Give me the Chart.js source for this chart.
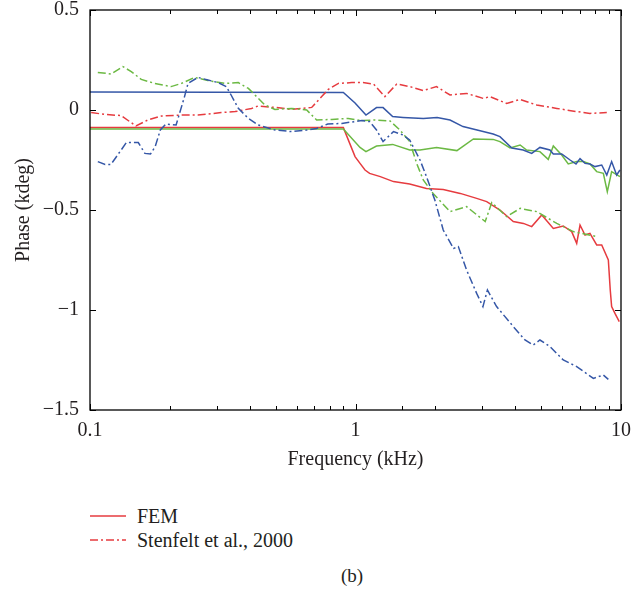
<!DOCTYPE html>
<html>
<head>
<meta charset="utf-8">
<script src="https://cdn.jsdelivr.net/npm/chart.js@4.4.1/dist/chart.umd.min.js"></script>
<style>
  html, body { margin: 0; padding: 0; background: #fff; }
  #wrap { position: relative; width: 641px; height: 594px; font-family: 'Liberation Serif', 'Times New Roman', serif; color: #231f20; overflow: hidden; }
  #chartBox { position: absolute; left: 0; top: -5px; width: 641px; height: 485px; }
  .leg { position: absolute; left: 90px; font-size: 20px; line-height: 22px; display: flex; align-items: center; }
  .leg svg { margin-right: 11px; }
  #cap { position: absolute; top: 565px; left: 0; width: 704px; text-align: center; font-size: 19px; }
</style>
</head>
<body>
<div id="wrap">
  <div id="chartBox"><canvas id="phase"></canvas></div>
  <div class="leg" style="top:505px">
    <svg width="36" height="4"><line x1="0" y1="2" x2="36" y2="2" stroke="#e63b3f" stroke-width="1.6"/></svg>FEM
  </div>
  <div class="leg" style="top:529px">
    <svg width="36" height="4"><line x1="0" y1="2" x2="36" y2="2" stroke="#e63b3f" stroke-width="1.6" stroke-dasharray="8 3 2 3"/></svg>Stenfelt et al., 2000
  </div>
  <div id="cap">(b)</div>
</div>
<script>
// --- DATOS (frecuencia en kHz, fase en kdeg) ---
const RED = '#e63b3f';
const BLUE = '#3557a7';
const GREEN = '#6cb944';

// FEM
const femBlueF = [0.1, 0.9, 0.996, 1.095, 1.20, 1.27, 1.38, 1.51, 1.80, 2.03, 2.27, 2.54, 2.87, 3.30, 3.50, 3.88, 4.28, 4.61, 4.95, 5.40, 5.56, 5.98, 6.43, 6.77, 7.01, 7.32, 7.64, 7.98, 8.46, 8.84, 9.22, 9.63, 9.91];
const femBlueP = [0.09, 0.088, 0.035, -0.025, 0.012, 0.012, -0.033, -0.037, -0.043, -0.038, -0.05, -0.083, -0.10, -0.12, -0.133, -0.19, -0.20, -0.217, -0.187, -0.20, -0.22, -0.22, -0.25, -0.27, -0.243, -0.267, -0.27, -0.283, -0.275, -0.325, -0.258, -0.325, -0.30];

const femGreenF = [0.1, 0.9, 1.04, 1.095, 1.20, 1.38, 1.60, 1.75, 2.02, 2.41, 2.78, 3.30, 3.50, 3.82, 4.17, 4.41, 4.95, 5.32, 5.56, 5.98, 6.33, 6.81, 7.21, 7.64, 8.10, 8.58, 8.88, 9.22, 9.91];
const femGreenP = [-0.095, -0.095, -0.187, -0.208, -0.18, -0.172, -0.20, -0.20, -0.187, -0.203, -0.145, -0.147, -0.158, -0.19, -0.175, -0.20, -0.208, -0.247, -0.18, -0.225, -0.27, -0.258, -0.258, -0.27, -0.308, -0.317, -0.408, -0.308, -0.333];

const femRedF = [0.1, 0.9, 0.996, 1.04, 1.086, 1.13, 1.24, 1.39, 1.60, 1.85, 2.14, 2.48, 2.86, 3.12, 3.50, 3.93, 4.29, 4.61, 5.03, 5.56, 6.06, 6.52, 6.81, 7.01, 7.32, 7.64, 8.10, 8.46, 8.96, 9.11, 9.22, 9.49, 9.85];
const femRedP = [-0.088, -0.088, -0.233, -0.267, -0.30, -0.317, -0.333, -0.358, -0.37, -0.392, -0.397, -0.417, -0.442, -0.458, -0.50, -0.558, -0.567, -0.583, -0.525, -0.592, -0.58, -0.608, -0.667, -0.575, -0.625, -0.617, -0.675, -0.675, -0.75, -0.90, -0.983, -1.017, -1.058];

// Stenfelt et al., 2000
const stRedF = [0.101, 0.114, 0.131, 0.149, 0.165, 0.186, 0.221, 0.255, 0.312, 0.352, 0.406, 0.430, 0.497, 0.575, 0.684, 0.746, 0.790, 0.862, 0.968, 1.067, 1.17, 1.29, 1.43, 1.60, 1.80, 2.02, 2.27, 2.62, 3.03, 3.21, 3.71, 4.17, 4.81, 5.73, 6.81, 7.64, 8.84];
const stRedP = [-0.013, -0.022, -0.028, -0.08, -0.05, -0.03, -0.025, -0.025, -0.013, -0.008, 0.008, 0.02, 0.013, 0.003, 0.013, 0.067, 0.103, 0.133, 0.137, 0.137, 0.13, 0.067, 0.13, 0.117, 0.097, 0.117, 0.075, 0.083, 0.058, 0.067, 0.033, 0.053, 0.025, 0.008, -0.008, -0.017, -0.013];

const stGreenF = [0.107, 0.120, 0.133, 0.143, 0.156, 0.175, 0.202, 0.221, 0.248, 0.278, 0.322, 0.362, 0.395, 0.456, 0.497, 0.575, 0.655, 0.714, 0.814, 0.939, 1.055, 1.17, 1.35, 1.47, 1.60, 1.70, 1.80, 1.96, 2.27, 2.62, 3.08, 3.26, 3.71, 4.17, 4.81, 5.73, 6.61, 8.10];
const stGreenP = [0.188, 0.18, 0.217, 0.192, 0.153, 0.133, 0.117, 0.133, 0.163, 0.147, 0.133, 0.137, 0.108, 0.025, 0.003, 0.008, 0.0, -0.05, -0.047, -0.042, -0.053, -0.05, -0.055, -0.10, -0.158, -0.267, -0.35, -0.417, -0.508, -0.483, -0.558, -0.463, -0.533, -0.492, -0.508, -0.567, -0.608, -0.633];

const stBlueF = [0.107, 0.114, 0.120, 0.131, 0.137, 0.152, 0.161, 0.169, 0.176, 0.184, 0.193, 0.211, 0.227, 0.234, 0.255, 0.278, 0.304, 0.326, 0.340, 0.362, 0.395, 0.430, 0.497, 0.575, 0.655, 0.714, 0.786, 0.888, 1.055, 1.13, 1.20, 1.27, 1.39, 1.51, 1.60, 1.75, 1.85, 1.99, 2.14, 2.34, 2.44, 2.62, 2.86, 3.02, 3.14, 3.40, 3.93, 4.35, 4.67, 4.95, 5.40, 6.06, 6.81, 7.87, 8.58, 8.96];
const stBlueP = [-0.258, -0.272, -0.272, -0.20, -0.163, -0.163, -0.217, -0.22, -0.183, -0.10, -0.07, -0.075, 0.067, 0.133, 0.163, 0.15, 0.137, 0.117, 0.075, 0.008, -0.042, -0.075, -0.10, -0.108, -0.10, -0.092, -0.07, -0.067, -0.053, -0.058, -0.10, -0.158, -0.108, -0.125, -0.15, -0.25, -0.333, -0.45, -0.60, -0.692, -0.683, -0.80, -0.917, -0.983, -0.90, -0.983, -1.083, -1.15, -1.175, -1.15, -1.183, -1.25, -1.283, -1.342, -1.325, -1.347];

const xLabels = [0.1, 1, 10];
const yTicks = [0.5, 0, -0.5, -1, -1.5];

const FONT = "'Liberation Serif', 'Times New Roman', serif";
const DASHDOT = [8, 3, 2, 3];

const pts = (f, p) => f.map((v, i) => ({ x: v, y: p[i] }));

function serie(f, p, color, dashed) {
    return {
        data: pts(f, p),
        borderColor: color,
        backgroundColor: color,
        borderWidth: 1.5,
        borderDash: dashed ? DASHDOT : [],
        pointRadius: 0,
        tension: 0,
        fill: false
    };
}

// marco con marcas hacia dentro en los cuatro lados
const framePlugin = {
    id: 'frame',
    afterDraw(chart) {
        const { ctx, chartArea: a, scales } = chart;
        ctx.save();
        ctx.strokeStyle = '#000';
        ctx.lineWidth = 1.3;
        ctx.strokeRect(a.left, a.top, a.right - a.left, a.bottom - a.top);
        ctx.lineWidth = 1;
        ctx.beginPath();
        scales.x.ticks.forEach(t => {
            const px = Math.round(scales.x.getPixelForValue(t.value)) + 0.5;
            const major = xLabels.some(v => Math.abs(v - t.value) < 1e-9);
            const len = major ? 6 : 4;
            ctx.moveTo(px, a.bottom); ctx.lineTo(px, a.bottom - len);
            ctx.moveTo(px, a.top); ctx.lineTo(px, a.top + len);
        });
        scales.y.ticks.forEach(t => {
            const py = Math.round(scales.y.getPixelForValue(t.value)) + 0.5;
            ctx.moveTo(a.left, py); ctx.lineTo(a.left + 6, py);
            ctx.moveTo(a.right, py); ctx.lineTo(a.right - 6, py);
        });
        ctx.stroke();
        ctx.restore();
    }
};

const ctx = document.getElementById('phase').getContext('2d');

new Chart(ctx, {
    type: 'line',
    data: {
        datasets: [
            serie(stBlueF, stBlueP, BLUE, true),
            serie(stGreenF, stGreenP, GREEN, true),
            serie(stRedF, stRedP, RED, true),
            serie(femBlueF, femBlueP, BLUE, false),
            serie(femGreenF, femGreenP, GREEN, false),
            serie(femRedF, femRedP, RED, false)
        ]
    },
    options: {
        responsive: true,
        maintainAspectRatio: false,
        animation: false,
        layout: { padding: { left: 0, right: 20, top: 0, bottom: 0 } },
        plugins: { legend: { display: false }, tooltip: { enabled: false } },
        scales: {
            x: {
                type: 'logarithmic',
                min: 0.1,
                max: 10,
                grid: { display: false },
                border: { display: false },
                ticks: {
                    autoSkip: false,
                    maxRotation: 0,
                    padding: 1,
                    color: '#231f20',
                    font: { family: FONT, size: 20 },
                    callback: (v) => xLabels.some(l => Math.abs(l - v) < 1e-9) ? String(v) : ''
                },
                title: {
                    display: true,
                    text: 'Frequency (kHz)',
                    color: '#231f20',
                    font: { family: FONT, size: 20 },
                    padding: { top: 0, bottom: 8 }
                },
                afterFit: (scale) => { scale.height = 70; }
            },
            y: {
                min: -1.5,
                max: 0.5,
                grid: { display: false },
                border: { display: false },
                afterBuildTicks: (scale) => { scale.ticks = yTicks.map(v => ({ value: v })); },
                ticks: {
                    padding: 3,
                    color: '#231f20',
                    font: { family: FONT, size: 20 },
                    callback: (v) => v === 0 ? '0' : String(v).replace('-', '\u2212')
                },
                title: {
                    display: true,
                    text: 'Phase (kdeg)',
                    color: '#231f20',
                    font: { family: FONT, size: 20 },
                    padding: 12
                },
                afterFit: (scale) => { scale.width = 90; }
            }
        }
    },
    plugins: [framePlugin]
});
</script>
</body>
</html>
